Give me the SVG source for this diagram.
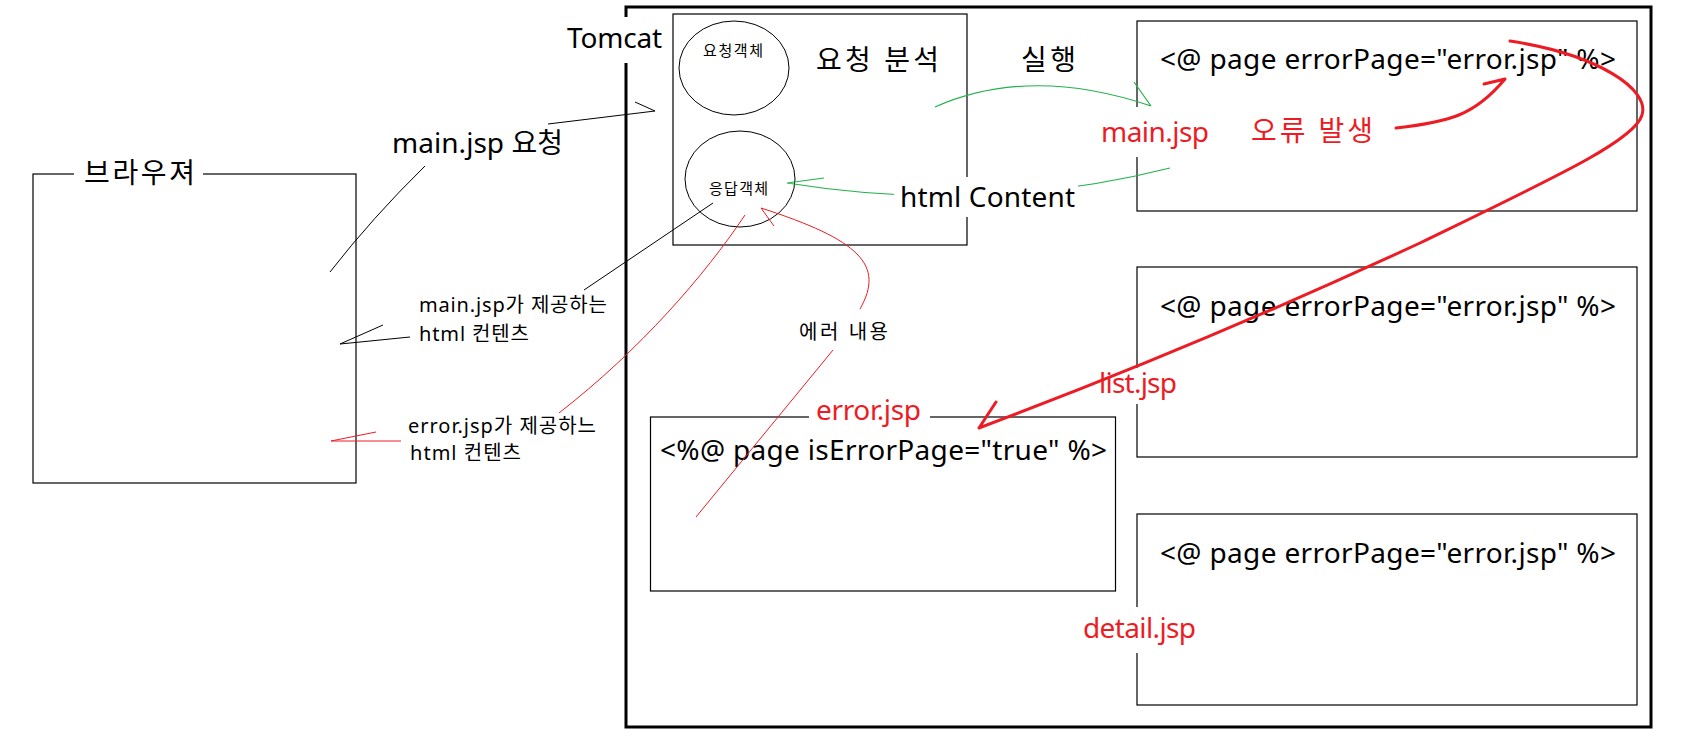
<svg xmlns="http://www.w3.org/2000/svg" width="1691" height="739" viewBox="0 0 1691 739">
<style>
.t{font-family:"Noto Sans","Noto Sans CJK KR",sans-serif;fill:#000}
.big{font-size:28px}
.mid{font-size:20px}
.sm{font-size:15px}
.red{fill:#ed1c24}
.box{fill:none;stroke:#000;stroke-width:1.2}
.bg{fill:#fff;stroke:none}
.thin{fill:none;stroke:#000;stroke-width:1}
.rthin{fill:none;stroke:#ed1c24;stroke-width:1}
.rthick{fill:none;stroke:#ed1c24;stroke-width:3;stroke-linecap:round;stroke-linejoin:round}
.green{fill:none;stroke:#22b14c;stroke-width:1.2}
</style>
<rect width="1691" height="739" fill="#fff"/>

<g id="browser">
<rect class="box" x="33" y="174" width="323" height="309"/>
<rect class="bg" x="74" y="168" width="129" height="12"/>
<text class="t big" x="84" y="183" textLength="111">브라우져</text>
</g>

<g id="tomcat">
<rect x="626" y="7" width="1025" height="720" fill="none" stroke="#000" stroke-width="3"/>
<rect class="bg" x="560" y="17" width="108" height="46"/>
<text class="t big" x="567" y="48" textLength="95">Tomcat</text>
</g>

<g id="request-analysis">
<rect class="box" x="673" y="14" width="294" height="231"/>
<ellipse class="thin" cx="734" cy="68" rx="55" ry="47"/>
<text class="t sm" x="703" y="56" textLength="60">요청객체</text>
<ellipse class="thin" cx="740" cy="179" rx="55" ry="48"/>
<text class="t sm" x="709" y="194" textLength="59">응답객체</text>
<text class="t big" x="816" y="70" textLength="123">요청 분석</text>
</g>

<g id="main-jsp">
<rect class="box" x="1137" y="21" width="500" height="190"/>
<rect class="bg" x="1098" y="107" width="114" height="50"/>
<text class="t big red" x="1101" y="142" textLength="108">main.jsp</text>
<text class="t big" x="1160" y="69" textLength="456">&lt;@ page errorPage="error.jsp" %&gt;</text>
</g>

<g id="list-jsp">
<rect class="box" x="1137" y="267" width="500" height="190"/>
<rect class="bg" x="1096" y="368" width="84" height="36"/>
<text class="t big red" x="1099" y="393" textLength="78">list.jsp</text>
<text class="t big" x="1160" y="316" textLength="456">&lt;@ page errorPage="error.jsp" %&gt;</text>
</g>

<g id="detail-jsp">
<rect class="box" x="1137" y="514" width="500" height="191"/>
<rect class="bg" x="1080" y="607" width="120" height="46"/>
<text class="t big red" x="1083" y="638" textLength="113">detail.jsp</text>
<text class="t big" x="1160" y="563" textLength="456">&lt;@ page errorPage="error.jsp" %&gt;</text>
</g>

<g id="error-jsp">
<rect class="box" x="650.5" y="417" width="465" height="174"/>
<rect class="bg" x="809" y="410" width="121" height="14"/>
<text class="t big red" x="816" y="420" textLength="105">error.jsp</text>
<text class="t big" x="660" y="460" textLength="447">&lt;%@ page isErrorPage="true" %&gt;</text>
</g>

<g id="connectors">
<path class="thin" d="M548,124 L655,111 M635,102 L655,111"/>
<path class="thin" d="M425,166 Q372,218 330,272"/>
<path class="thin" d="M713,203 L584,290"/>
<path class="thin" d="M410,337 L340,344 M383,325 L340,344"/>
<path class="rthin" d="M401,441 L331,441 M376,432 L331,441"/>
<path class="rthin" d="M745,215 C705,275 640,350 559,413"/>
<path class="rthin" d="M860,309 C885,265 860,240 761,208 M774,226 L761,208"/>
<path class="rthin" d="M833,350 L696,517"/>
<path class="green" d="M935,107 Q1030,65 1151,106 M1134,82 L1151,106"/>
<path class="green" d="M1170,168 Q985,215 787,183 M824,178 L787,183"/>
<rect class="bg" x="894" y="177" width="184" height="40"/>
<text class="t big" x="900" y="207" textLength="175">html Content</text>
<path class="rthick" d="M1396,128 C1450,122 1475,115 1505,79 M1484,84 L1505,79"/>
<path class="rthick" d="M1510,41 C1600,55 1650,90 1642,115 C1635,140 1560,175 1420,243 Q1200,345 979,428 M996,402 L979,428"/>
</g>

<g id="labels">
<text class="t big" x="392" y="153" textLength="171">main.jsp 요청</text>
<text class="t big" x="1021" y="70" textLength="55">실행</text>
<text class="t big red" x="1251" y="141" textLength="122">오류 발생</text>
<text class="t mid" x="419" y="312" textLength="188">main.jsp가 제공하는</text>
<text class="t mid" x="419" y="341" textLength="110">html 컨텐츠</text>
<text class="t mid" x="408" y="433" textLength="188">error.jsp가 제공하느</text>
<text class="t mid" x="410" y="460" textLength="111">html 컨텐츠</text>
<text class="t mid" x="799" y="339" textLength="89">에러 내용</text>
</g>
</svg>
